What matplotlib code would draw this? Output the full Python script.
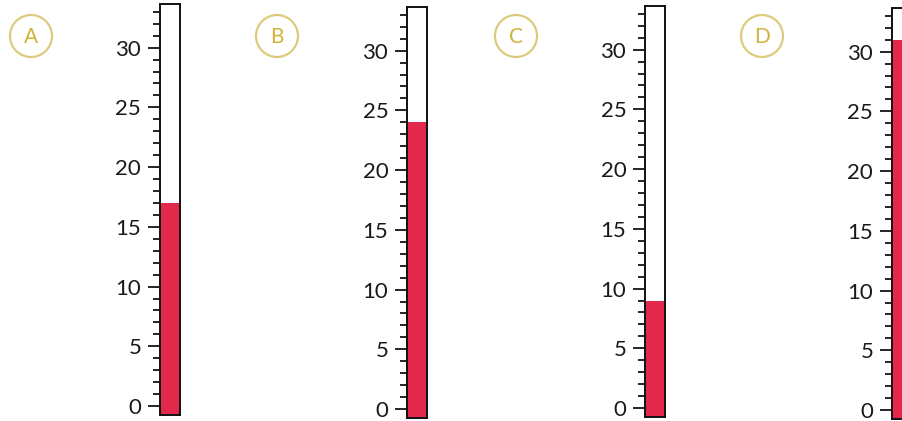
import matplotlib.pyplot as plt
from matplotlib.patches import Circle
from matplotlib.ticker import MultipleLocator

plt.rcParams['font.family'] = ['Lato', 'DejaVu Sans']

labels = ["A", "B", "C", "D"]
values = [17, 24, 9, 31]
major_ticks = [0, 5, 10, 15, 20, 25, 30]

W, H = 902, 421
fig = plt.figure(figsize=(W / 100, H / 100), dpi=100)

# overlay in pixel coordinates for the circled letters
bg = fig.add_axes([0, 0, 1, 1])
bg.set_xlim(0, W)
bg.set_ylim(H, 0)
bg.axis("off")

bar_left = [160, 407, 645, 892]
bar_bottom = [415, 418, 417, 419]
circle_x = [31, 277, 516, 762]
bar_w, bar_h = 20, 411
ymin, ymax = -0.75, 33.65

for lab, val, bl, bb, cx in zip(labels, values, bar_left, bar_bottom, circle_x):
    bg.add_patch(Circle((cx, 36), 21, fill=False, ec="#dccb7e", lw=1.6))
    bg.text(cx, 37, lab, ha="center", va="center", fontsize=15, color="#cfb43a")

    ax = fig.add_axes([bl / W, (H - bb) / H, bar_w / W, bar_h / H])
    ax.bar(0, val - ymin, bottom=ymin, width=1, color="#e2294b")
    ax.set_xlim(-0.5, 0.5)
    ax.set_ylim(ymin, ymax)
    ax.set_xticks([])
    ax.set_yticks(major_ticks)
    ax.yaxis.set_minor_locator(MultipleLocator(1))
    ax.tick_params(axis="y", which="major", length=8.5, width=1.2, pad=5,
                   labelsize=16, labelcolor="#1a1a1a")
    ax.tick_params(axis="y", which="minor", length=5, width=1.2)
    for s in ax.spines.values():
        s.set_linewidth(1.4)
        s.set_color("#111111")

fig.savefig("out.png", dpi=100)
